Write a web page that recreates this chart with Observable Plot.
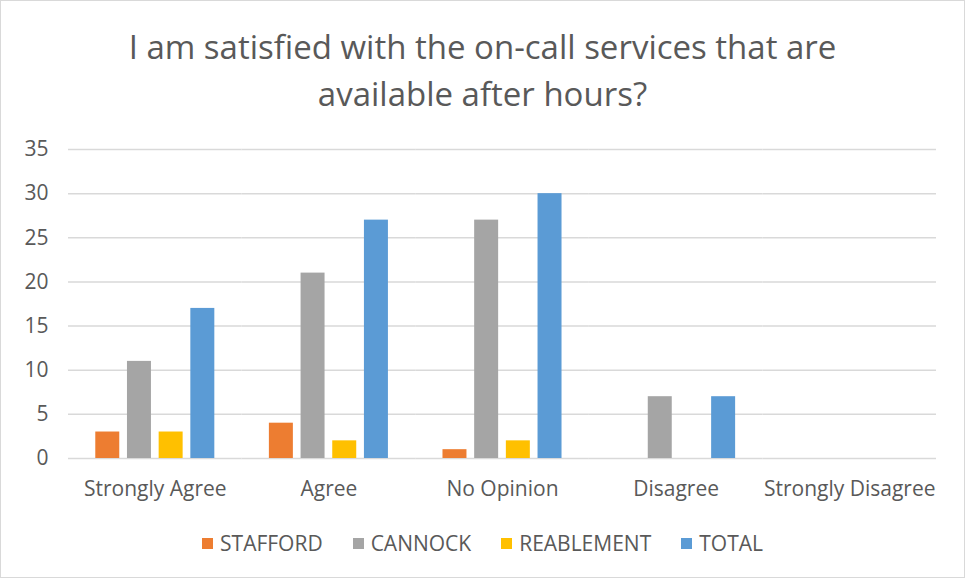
<!DOCTYPE html>
<html>
<head>
<meta charset="utf-8">
<script src="https://cdn.jsdelivr.net/npm/d3@7"></script>
<script src="https://cdn.jsdelivr.net/npm/@observablehq/plot@0.6"></script>
<style>
  html, body { margin: 0; padding: 0; background: #fff; }
  #wrap { position: relative; width: 963px; height: 576px; border: 1px solid #d9d9d9; overflow: hidden; font-family: "Open Sans", "Liberation Sans", sans-serif; color: #595959; }
  #title { position: absolute; top: 22px; left: 0; width: 963px; text-align: center; font-size: 33px; line-height: 47px; color: #595959; }
  #chart { position: absolute; top: 120px; left: 0; }
  #legend { position: absolute; top: 528px; left: 0; width: 963px; display: flex; justify-content: center; gap: 30px; font-size: 21px; color: #595959; }
  #legend span.item { display: flex; align-items: center; }
  #legend span.sw { display: inline-block; width: 11px; height: 11px; margin-right: 7px; }
</style>
</head>
<body>
<div id="wrap">
  <div id="title">I am satisfied with the on-call services that are<br>available after hours?</div>
  <div id="chart"></div>
  <div id="legend"></div>
</div>
<script>
const categories = ["Strongly Agree", "Agree", "No Opinion", "Disagree", "Strongly Disagree"];
const seriesNames = ["STAFFORD", "CANNOCK", "REABLEMENT", "TOTAL"];
const seriesColors = ["#ED7D31", "#A5A5A5", "#FFC000", "#5B9BD5"];
const stafford = [3, 4, 1, 0, 0];
const cannock = [11, 21, 27, 7, 0];
const reablement = [3, 2, 2, 0, 0];
const total = [17, 27, 30, 7, 0];
const yTicks = [0, 5, 10, 15, 20, 25, 30, 35];

const seriesValues = [stafford, cannock, reablement, total];
const data = [];
categories.forEach((c, i) => {
  seriesNames.forEach((s, j) => {
    data.push({cat: c, series: s, value: seriesValues[j][i]});
  });
});

const chart = Plot.plot({
  width: 963,
  height: 395,
  marginLeft: 67,
  marginRight: 28,
  marginTop: 28,
  marginBottom: 58,
  style: {fontSize: "20px", fontFamily: "'Open Sans', 'Liberation Sans', sans-serif", color: "#595959", background: "transparent"},
  fx: {domain: categories, padding: 0, round: false, label: null, axis: null},
  x: {domain: seriesNames, axis: null, round: false, paddingInner: 0.243, paddingOuter: 0.861},
  y: {domain: [0, 35], axis: null},
  color: {domain: seriesNames, range: seriesColors},
  marks: [
    Plot.ruleY(yTicks, {stroke: "#d9d9d9", strokeWidth: 1.5}),
    Plot.barY(data, {fx: "cat", x: "series", y: "value", fill: "series"}),
    Plot.axisY({ticks: yTicks, anchor: "left", tickSize: 0, tickPadding: 20, label: null, fontSize: 21}),
    Plot.axisFx({anchor: "bottom", tickSize: 0, tickPadding: 23, label: null, fontSize: 21})
  ]
});
document.getElementById("chart").appendChild(chart);

const legend = document.getElementById("legend");
seriesNames.forEach((s, j) => {
  const item = document.createElement("span");
  item.className = "item";
  const sw = document.createElement("span");
  sw.className = "sw";
  sw.style.background = seriesColors[j];
  item.appendChild(sw);
  item.appendChild(document.createTextNode(s));
  legend.appendChild(item);
});
</script>
</body>
</html>
